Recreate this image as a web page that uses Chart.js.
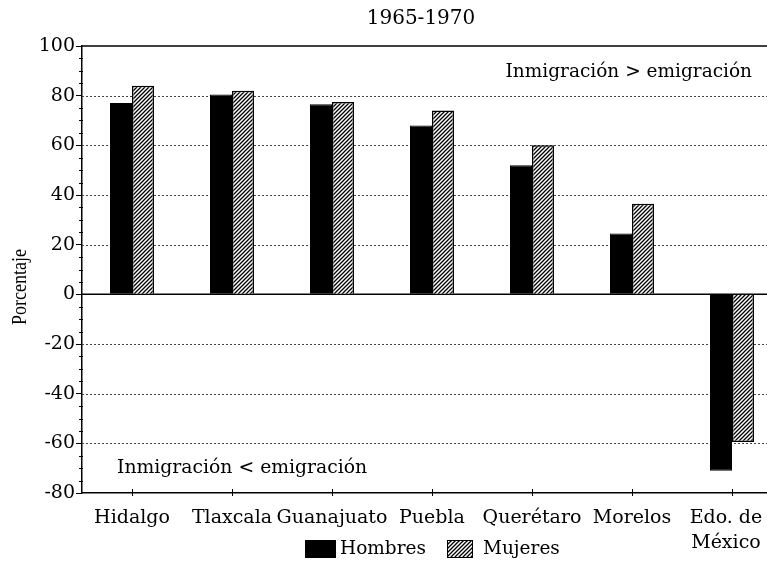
<!DOCTYPE html>
<html><head><meta charset="utf-8">
<script src="https://cdn.jsdelivr.net/npm/chart.js@4"></script>
<style>html,body{margin:0;padding:0;background:#fff;overflow:hidden;width:767px;height:565px}
#wrap{position:absolute;left:0;top:0;width:800px;height:565px}</style>
</head><body><div id="wrap"><canvas id="c"></canvas></div>
<script>
const categories = ["Hidalgo","Tlaxcala","Guanajuato","Puebla","Querétaro","Morelos",["Edo. de","México"]];
const hombres = [77, 80.5, 76.5, 68, 52, 24.5, -71];
const mujeres = [84, 82, 77.5, 74, 60, 36.5, -59.5];
const yTicks = [-80,-60,-40,-20,0,20,40,60,80,100];
const titleText = "1965-1970";
const yTitle = "Porcentaje";
const noteTop = "Inmigración > emigración";
const noteBottom = "Inmigración < emigración";
const seriesNames = ["Hombres","Mujeres"];

const FONT = "DejaVu Serif";
const ctx = document.getElementById('c').getContext('2d');
const hc = document.createElement('canvas'); hc.width = 4; hc.height = 4;
const hg = hc.getContext('2d');
hg.fillStyle = '#fff'; hg.fillRect(0,0,4,4);
hg.strokeStyle = '#000'; hg.lineWidth = 1.3;
hg.beginPath(); hg.moveTo(0,4); hg.lineTo(4,0); hg.moveTo(-1,1); hg.lineTo(1,-1); hg.moveTo(3,5); hg.lineTo(5,3); hg.stroke();
const pat = ctx.createPattern(hc,'repeat');

const deco = {id:'deco',
  beforeDatasetsDraw(chart){
    const {ctx, chartArea:a, scales:{x,y}} = chart;
    ctx.save();
    ctx.strokeStyle = '#444'; ctx.lineWidth = 1; ctx.setLineDash([2,2]);
    yTicks.forEach(v=>{ if(v===0||v===y.max||v===y.min) return;
      const py = Math.round(y.getPixelForValue(v))+0.5;
      ctx.beginPath(); ctx.moveTo(a.left,py); ctx.lineTo(a.right,py); ctx.stroke(); });
    ctx.setLineDash([]); ctx.strokeStyle = '#000'; ctx.lineWidth = 1.5;
    [0, y.max].forEach(v=>{ const py = y.getPixelForValue(v);
      ctx.beginPath(); ctx.moveTo(a.left,py); ctx.lineTo(a.right,py); ctx.stroke(); });
    ctx.lineWidth = 1;
    for(let v=y.min; v<=y.max; v+=5){ if(v%20===0) continue;
      const py = Math.round(y.getPixelForValue(v))+0.5;
      ctx.beginPath(); ctx.moveTo(a.left-3,py); ctx.lineTo(a.left+1,py); ctx.stroke(); }
    categories.forEach((c,i)=>{ const px = Math.round(x.getPixelForValue(i))+0.5;
      ctx.beginPath(); ctx.moveTo(px,a.bottom-4); ctx.lineTo(px,a.bottom+3); ctx.stroke(); });
    ctx.restore();
  },
  afterDraw(chart){
    const {ctx, chartArea:a} = chart;
    ctx.save();
    ctx.fillStyle = '#000';
    ctx.textBaseline = 'middle';
    ctx.textAlign = 'center';
    ctx.font = `20px "${FONT}"`;
    ctx.fillText(titleText, 421, 19);
    ctx.font = `18.5px "${FONT}"`;
    ctx.textAlign = 'right';
    ctx.fillText(noteTop, 752, 72);
    ctx.textAlign = 'left';
    ctx.font = `18.8px "${FONT}"`;
    ctx.fillText(noteBottom, 117, 468);
    ctx.font = `21px "Liberation Serif"`;
    ctx.save(); ctx.translate(20, 287); ctx.rotate(-Math.PI/2); ctx.scale(0.86,1); ctx.textAlign='center';
    ctx.fillText(yTitle, 0, 0); ctx.restore();
    // legend
    const ds = chart.data.datasets;
    const items = [{x:305,w:31,tx:340},{x:447,w:26,tx:483}];
    ctx.font = `18.5px "${FONT}"`;
    items.forEach((it,i)=>{
      ctx.fillStyle = ds[i].backgroundColor; ctx.fillRect(it.x,540,it.w,18);
      ctx.strokeStyle='#000'; ctx.lineWidth=1; ctx.strokeRect(it.x+0.5,540.5,it.w-1,17);
      ctx.fillStyle='#000'; ctx.textAlign='left'; ctx.fillText(ds[i].label, it.tx, 549);
    });
    ctx.restore();
  }
};

new Chart(ctx,{type:'bar',
  data:{labels:categories,datasets:[
    {label:seriesNames[0],data:hombres,backgroundColor:'#000',borderColor:'#000',borderWidth:1,categoryPercentage:0.44,barPercentage:1},
    {label:seriesNames[1],data:mujeres,backgroundColor:pat,borderColor:'#000',borderWidth:1.5,categoryPercentage:0.44,barPercentage:1}
  ]},
  options:{responsive:true,maintainAspectRatio:false,animation:false,
    layout:{padding:{top:46,right:18,bottom:0,left:0}},
    plugins:{legend:{display:false},title:{display:false},tooltip:{enabled:false}},
    scales:{
      x:{grid:{display:false},border:{display:true,color:'#000',width:1.5},
         ticks:{color:'#000',font:{family:FONT,size:19,lineHeight:1.35},padding:4,maxRotation:0,autoSkip:false,
           callback(v,i){ const l = categories[i]; return Array.isArray(l) ? l.map(s=>s+'\u00a0\u00a0') : l; }},
         afterFit(s){s.height=72;}},
      y:{min:-80,max:100,afterBuildTicks(s){s.ticks=yTicks.map(v=>({value:v}));},
         grid:{drawOnChartArea:false,drawTicks:true,tickLength:6,color:'#000',lineWidth:1},
         border:{display:true,color:'#000',width:1.5},
         ticks:{color:'#000',font:{family:FONT,size:19},padding:1},
         afterFit(s){s.width=82;}}
    }},
  plugins:[deco]});
</script></body></html>
